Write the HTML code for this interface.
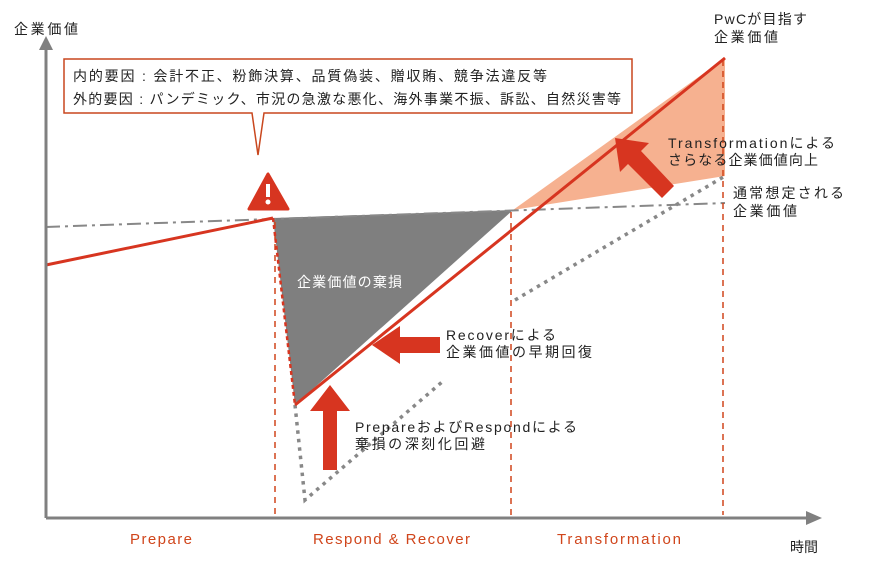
<!DOCTYPE html>
<html><head><meta charset="utf-8"><style>
body{margin:0;background:#fff;}
svg text{font-family:"Liberation Sans","Noto Sans CJK JP",sans-serif;}
</style></head><body>
<svg width="883" height="563" viewBox="0 0 883 563">
<polygon points="513,210 725,58 725,176" fill="#f6b190"/>
<polygon points="273,218 513,210 295,405" fill="#7f7f7f"/>
<line x1="46" y1="227" x2="725" y2="203" stroke="#888" stroke-width="2" stroke-dasharray="14,5,3,5"/>
<polyline points="295,405 305,500 442,382" fill="none" stroke="#888" stroke-width="3.5" stroke-dasharray="3.5,5"/>
<line x1="515" y1="300" x2="725" y2="176" stroke="#888" stroke-width="3.5" stroke-dasharray="3.5,5"/>
<g stroke="#d0451b" stroke-width="1.5" stroke-dasharray="6,5">
<line x1="275" y1="222" x2="275" y2="515"/>
<line x1="511" y1="212" x2="511" y2="515"/>
<line x1="723" y1="60" x2="723" y2="515"/>
</g>
<line x1="273" y1="218" x2="295" y2="405" stroke="#d73520" stroke-width="2.5" stroke-dasharray="4,3"/>
<polyline points="46,265 273,218" fill="none" stroke="#d73520" stroke-width="3"/>
<line x1="295" y1="405" x2="725" y2="58" stroke="#d73520" stroke-width="3"/>
<line x1="46" y1="518" x2="810" y2="518" stroke="#808080" stroke-width="3"/>
<polygon points="822,518 806,511 806,525" fill="#808080"/>
<line x1="46" y1="50" x2="46" y2="518" stroke="#808080" stroke-width="3"/>
<polygon points="46,36 39,50 53,50" fill="#808080"/>
<path d="M64,59 H632 V113 H264 L258,155 L252,113 H64 Z" fill="#fff" stroke="#c9471e" stroke-width="1.5"/>
<text x="73" y="81" font-size="14" fill="#222" textLength="474" lengthAdjust="spacing">内的要因 : 会計不正、粉飾決算、品質偽装、贈収賄、競争法違反等</text>
<text x="73" y="104" font-size="14" fill="#222" textLength="548" lengthAdjust="spacing">外的要因 : パンデミック、市況の急激な悪化、海外事業不振、訴訟、自然災害等</text>
<polygon points="268,174 249,209 288,209" fill="#d73520" stroke="#d73520" stroke-width="3" stroke-linejoin="round"/>
<rect x="266" y="184" width="4" height="13" fill="#fff"/>
<circle cx="268" cy="202" r="2.5" fill="#fff"/>
<polygon points="323,470 337,470 337,411 350,411 330,385 310,411 323,411" fill="#d73520"/>
<polygon points="440,337 400,337 400,326 372,345 400,364 400,353 440,353" fill="#d73520"/>
<polygon points="674,186 662,198 628,164 620,172 615,138 649,143 641,151" fill="#d73520"/>
<text x="14" y="34" font-size="14" fill="#222" textLength="64">企業価値</text>
<text x="714" y="24" font-size="14" fill="#222" textLength="93">PwCが目指す</text>
<text x="714" y="42" font-size="14" fill="#222" textLength="64">企業価値</text>
<text x="668" y="148" font-size="14" fill="#222" textLength="167">Transformationによる</text>
<text x="668" y="165" font-size="14" fill="#222" textLength="150">さらなる企業価値向上</text>
<text x="733" y="198" font-size="14" fill="#222" textLength="111">通常想定される</text>
<text x="733" y="216" font-size="14" fill="#222" textLength="64">企業価値</text>
<text x="297" y="287" font-size="14" fill="#fff" textLength="105">企業価値の棄損</text>
<text x="446" y="340" font-size="14" fill="#222" textLength="110">Recoverによる</text>
<text x="446" y="357" font-size="14" fill="#222" textLength="146">企業価値の早期回復</text>
<text x="355" y="432" font-size="14" fill="#222" textLength="222">PrepareおよびRespondによる</text>
<text x="355" y="449" font-size="14" fill="#222" textLength="130">棄損の深刻化回避</text>
<text x="130" y="544" font-size="15" fill="#d0451b" textLength="62">Prepare</text>
<text x="313" y="544" font-size="15" fill="#d0451b" textLength="157">Respond &amp; Recover</text>
<text x="557" y="544" font-size="15" fill="#d0451b" textLength="124">Transformation</text>
<text x="790" y="552" font-size="14" fill="#222">時間</text>
</svg>
</body></html>
